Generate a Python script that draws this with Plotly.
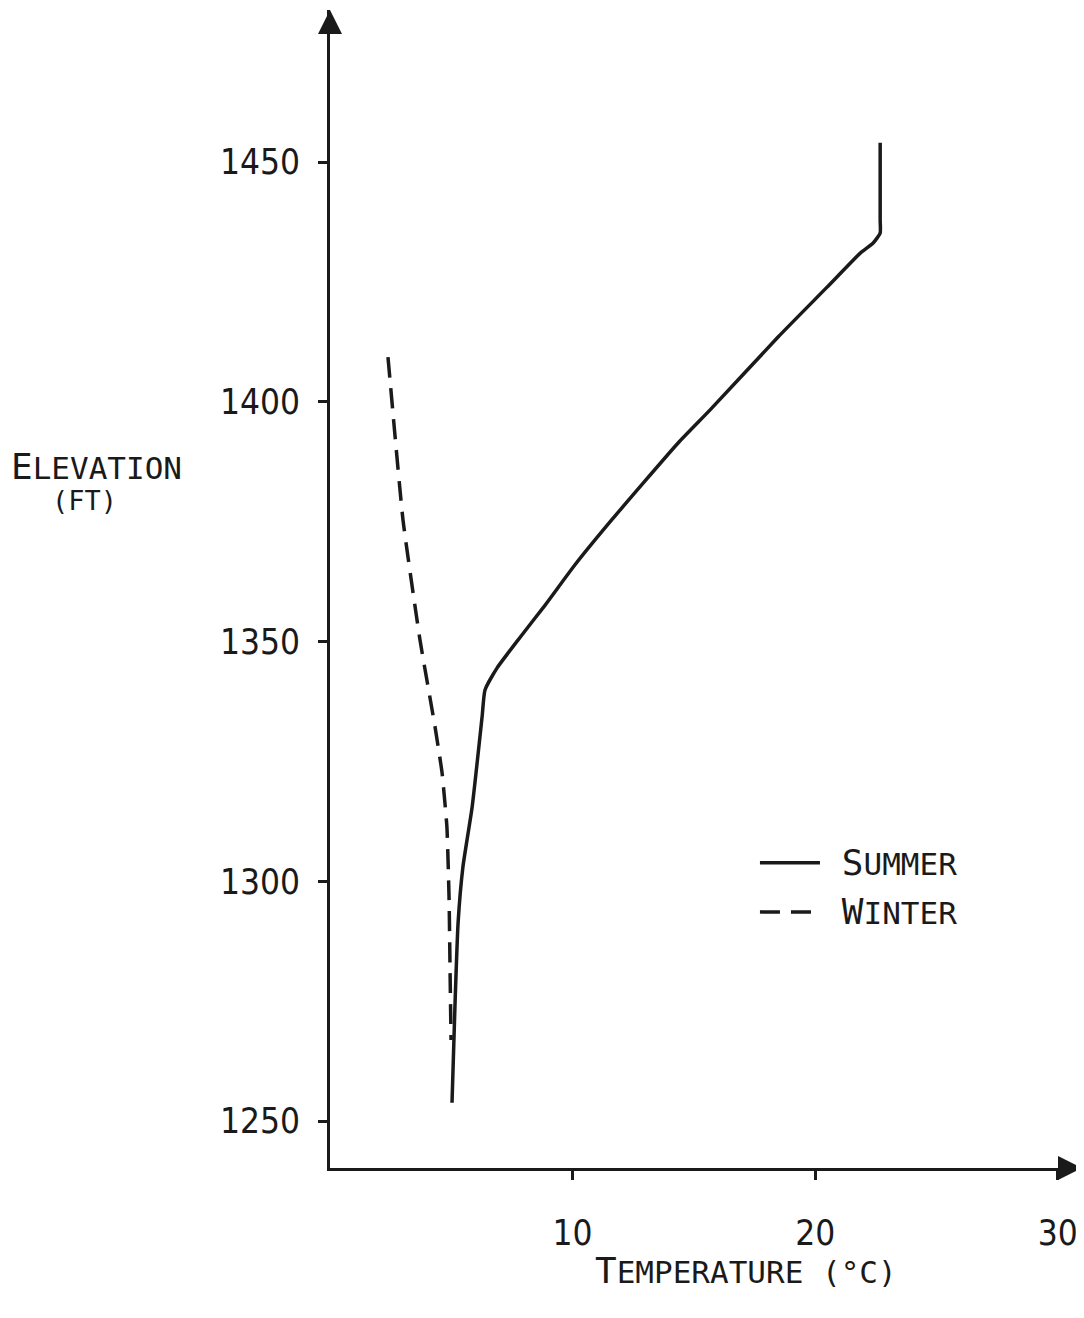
import plotly.graph_objects as go

summer_temp = [5.03, 5.15, 5.28, 5.48, 5.86, 6.27, 6.39, 6.89, 7.84, 8.87, 10.10, 11.62, 14.35, 15.67, 18.47, 20.49, 21.86, 22.39, 22.68, 22.68, 22.68]
summer_elev = [1253.8, 1273.8, 1291.3, 1303.0, 1315.5, 1334.3, 1339.9, 1344.5, 1350.9, 1357.6, 1366.0, 1375.4, 1391.4, 1398.3, 1413.5, 1423.9, 1431.0, 1433.1, 1435.2, 1437.9, 1454.0]

winter_temp = [2.39, 3.01, 3.71, 4.33, 4.62, 4.82, 4.91, 4.95, 4.99]
winter_elev = [1409.3, 1375.3, 1350.3, 1332.2, 1322.6, 1311.3, 1296.1, 1280.9, 1266.9]

x_ticks = [10, 20, 30]
y_ticks = [1250, 1300, 1350, 1400, 1450]

NUMFONT = "DejaVu Sans Condensed, DejaVu Sans, sans-serif"
TXTFONT = "DejaVu Sans Mono, monospace"
INK = "#1a1a1a"

def smallcaps(word, big=36, small=31):
    return f"<span style='font-size:{big}px'>{word[0]}</span><span style='font-size:{small}px'>{word[1:]}</span>"

PAD = "<span style='font-size:28px'>&nbsp;</span>"

fig = go.Figure()
fig.add_trace(go.Scatter(x=summer_temp, y=summer_elev, mode="lines",
                         line=dict(color=INK, width=3.5, shape="spline", smoothing=0.5),
                         name=PAD + smallcaps("SUMMER"), legendgroup="s"))
fig.add_trace(go.Scatter(x=winter_temp, y=winter_elev, mode="lines",
                         line=dict(color=INK, width=3.5, dash="20px,11px", shape="spline", smoothing=0.4),
                         name=PAD + smallcaps("WINTER"), legendgroup="w"))

fig.update_layout(
    width=1076, height=1310,
    margin=dict(l=322, r=2, t=2, b=150, autoexpand=False),
    paper_bgcolor="white", plot_bgcolor="white",
    font=dict(family=NUMFONT, color=INK, size=32),
    showlegend=True,
    legend=dict(x=0.5651, y=0.2867, xanchor="left", yanchor="top",
                bgcolor="rgba(0,0,0,0)", itemwidth=60,
                font=dict(family=TXTFONT, size=31, color=INK),
                tracegroupgap=6),
    xaxis=dict(range=[0, 31], tickvals=x_ticks, ticktext=[str(v) for v in x_ticks],
               showgrid=False, zeroline=False, showline=True, linecolor=INK, linewidth=3,
               ticks="outside", ticklen=9, tickwidth=2.5, tickcolor=INK,
               ticklabelstandoff=23, tickfont=dict(size=35, family=NUMFONT)),
    yaxis=dict(range=[1240.2, 1481.7], tickvals=y_ticks, ticktext=[str(v) for v in y_ticks],
               showgrid=False, zeroline=False, showline=True, linecolor=INK, linewidth=3,
               ticks="outside", ticklen=9, tickwidth=2.5, tickcolor=INK,
               ticklabelstandoff=11, tickfont=dict(size=35, family=NUMFONT)),
)

# axis arrowheads
fig.add_annotation(xref="paper", yref="paper", x=1.0, y=0, ax=-25, ay=0,
                   showarrow=True, arrowhead=2,
                   arrowsize=1.6, arrowwidth=3, arrowcolor=INK, text="")
fig.add_annotation(xref="paper", yref="paper", x=0, y=1.0, ax=0, ay=25,
                   showarrow=True, arrowhead=2,
                   arrowsize=1.6, arrowwidth=3, arrowcolor=INK, text="")

# axis titles
fig.add_annotation(xref="paper", yref="paper", x=-0.31, y=0.6054, xanchor="center", yanchor="middle",
                   showarrow=False, text=smallcaps("ELEVATION"),
                   font=dict(family=TXTFONT, color=INK))
fig.add_annotation(xref="paper", yref="paper", x=-0.326, y=0.5765, xanchor="center", yanchor="middle",
                   showarrow=False, text="<span style='font-size:27px'>(FT)</span>",
                   font=dict(family=TXTFONT, color=INK))
fig.add_annotation(xref="paper", yref="paper", x=0.553, y=-0.0881, xanchor="center", yanchor="middle",
                   showarrow=False,
                   text=smallcaps("TEMPERATURE") + "<span style='font-size:31px'> (°C)</span>",
                   font=dict(family=TXTFONT, color=INK))

fig.write_html("out.html")
